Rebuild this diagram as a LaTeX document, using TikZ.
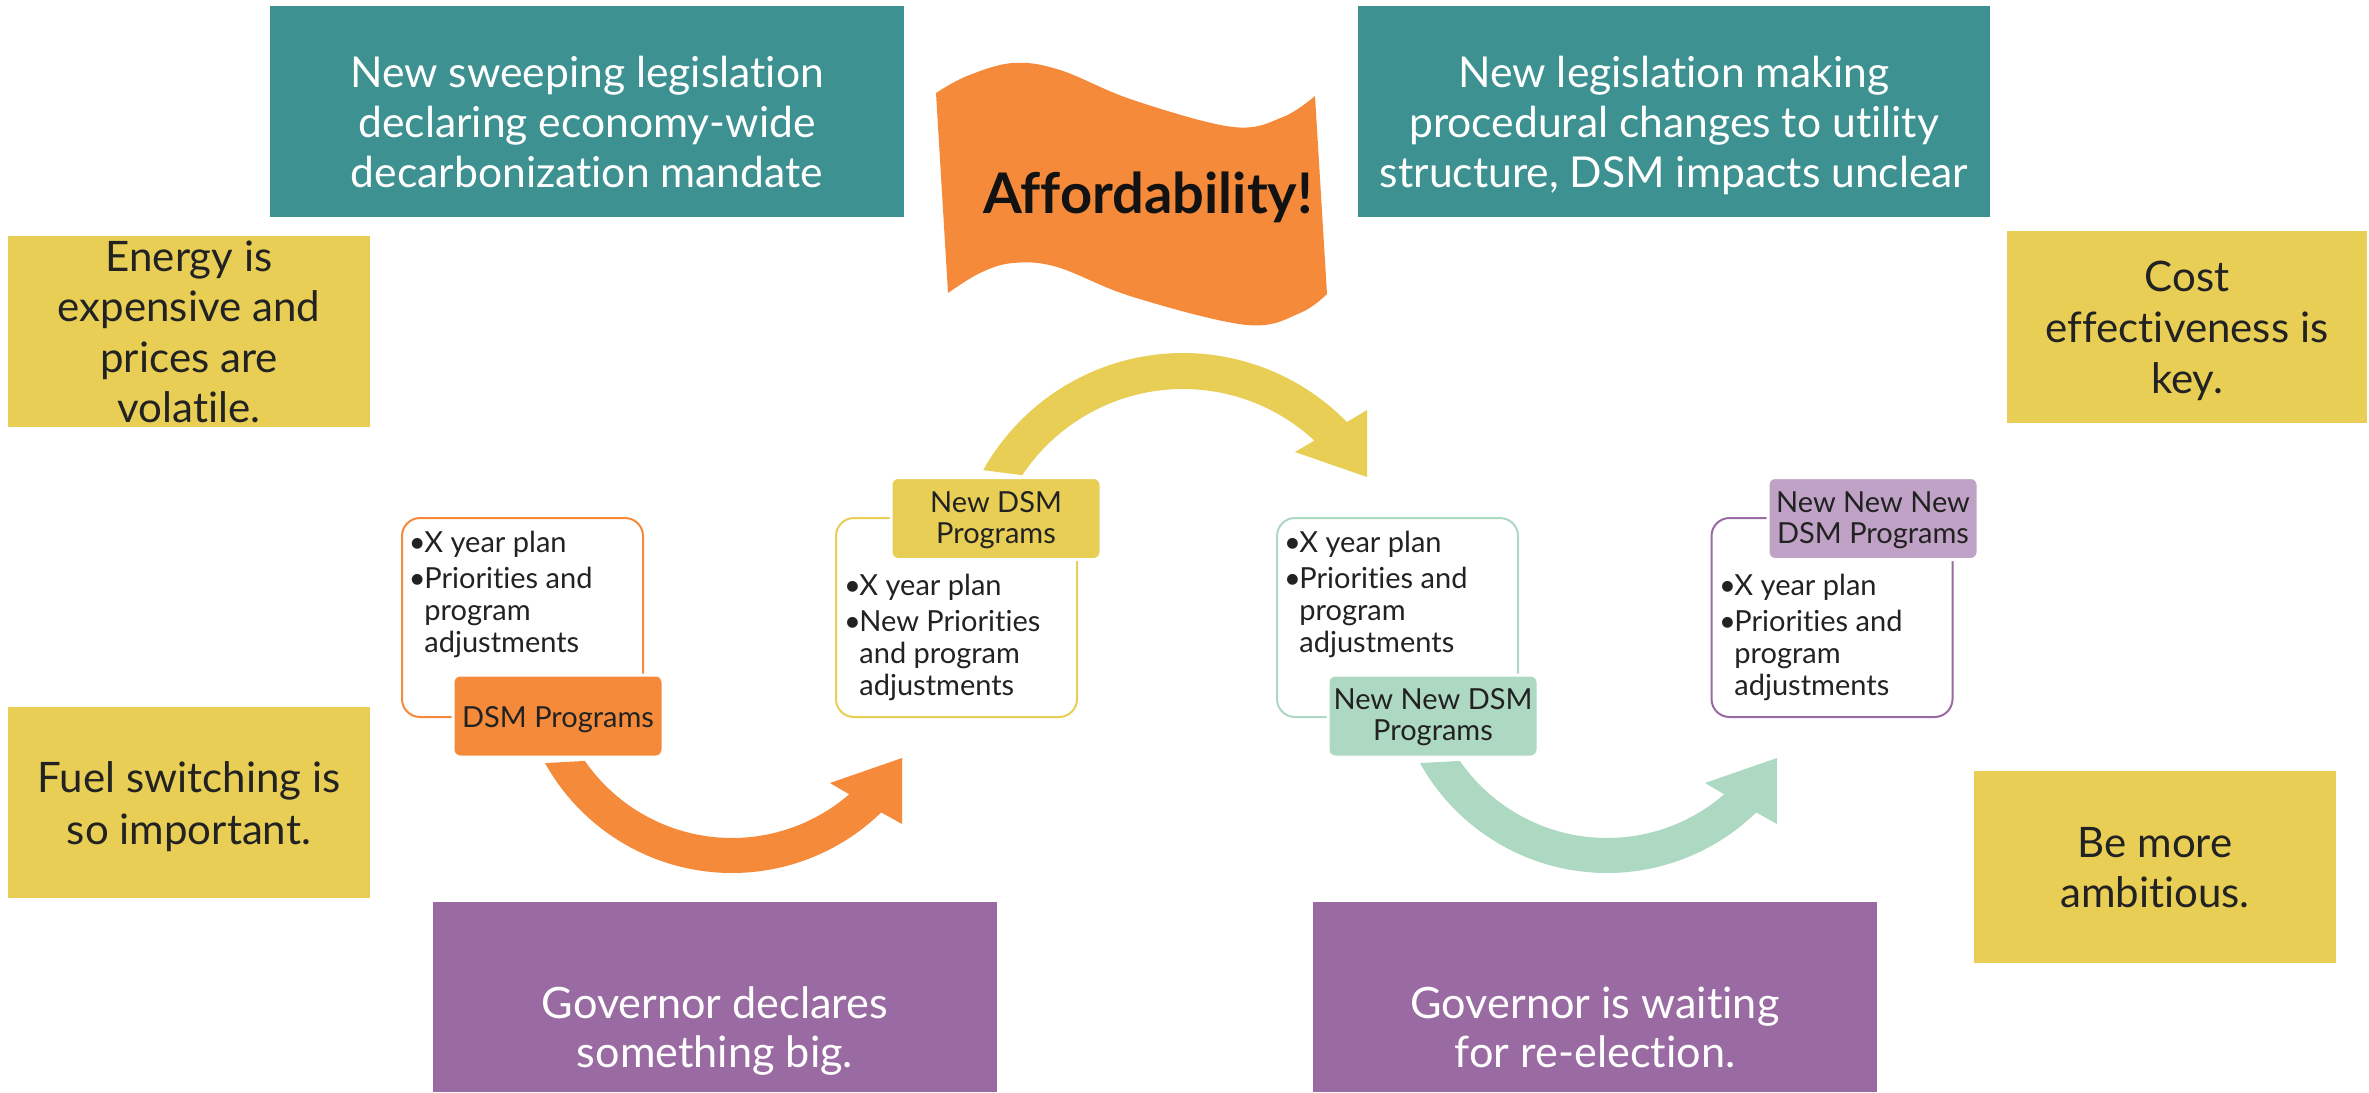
\documentclass[tikz,border=0pt]{standalone}
\usepackage{fontspec}
\setmainfont{Lato}[Ligatures={NoCommon}]
\usetikzlibrary{calc}
\definecolor{tealc}{HTML}{3D9190}
\definecolor{ylw}{HTML}{E8CE55}
\definecolor{org}{HTML}{F58B3A}
\definecolor{pur}{HTML}{9A6BA2}
\definecolor{purl}{HTML}{C0A2C7}
\definecolor{grn}{HTML}{ADD8C2}
\definecolor{ink}{HTML}{222222}
\newcommand\clines[2]{\vtop{\baselineskip=#1\lineskiplimit=-1000pt\lineskip=0pt\halign{\hfil##\hfil\cr#2\crcr}}}
\newcommand\llines[2]{\vtop{\baselineskip=#1\lineskiplimit=-1000pt\lineskip=0pt\halign{##\hfil&##\hfil\cr#2\crcr}}}
\newcommand\blt{\hbox to 7pt{\hss\textbullet\hss}}
\tikzset{
  fbox/.style={rectangle, inner sep=0pt, outer sep=0pt},
  tealbox/.style={fbox, fill=tealc},
  ylwbox/.style={fbox, fill=ylw},
  purbox/.style={fbox, fill=pur},
  obox/.style={fbox, rounded corners=9pt, fill=white, line width=1pt, minimum width=120.5pt, minimum height=99.5pt},
  lbox/.style={fbox, rounded corners=3.5pt, draw=white, line width=1.5pt, minimum width=105pt, minimum height=41pt},
  bigw/.style={inner sep=0pt, anchor=base, text=white, font=\fontsize{21.3pt}{25pt}\selectfont},
  bigk/.style={inner sep=0pt, anchor=base, text=ink, font=\fontsize{21pt}{25pt}\selectfont},
  small/.style={inner sep=0pt, text=ink, font=\fontsize{14.5pt}{16pt}\selectfont},
}
\begin{document}
\begin{tikzpicture}[x=0.5pt, y=-0.5pt]
\useasboundingbox (0,0) rectangle (2369,1092);
\fill[white] (0,0) rectangle (2369,1092);

% top teal boxes
\node[tealbox, minimum width=317pt, minimum height=105.5pt] (tl) at (587,111.5) {};
\node[bigw] (tltxt) at (587,87) {\clines{25pt}{New sweeping legislation\cr declaring economy-wide\cr decarbonization mandate}};
\node[tealbox, minimum width=316pt, minimum height=105.5pt] (tr) at (1674,111.5) {};
\node[bigw] (trtxt) at (1674,87) {\clines{25pt}{New legislation making\cr procedural changes to utility\cr structure, DSM impacts unclear}};

% flag
\fill[org] plot[smooth, tension=0.6] coordinates {(936,93) (967,76) (1013,63) (1060,70) (1133,100) (1233,127) (1283,117) (1315,96)}
  -- plot[smooth, tension=0.6] coordinates {(1327,294) (1300,313) (1247,325) (1133,297) (1057,267) (1013,263) (980,273) (948,293)} -- cycle;
\node[inner sep=0pt, anchor=base, text=black!93, font=\fontsize{28pt}{32pt}\selectfont\bfseries] (aff) at (1148,213) {Affordability!};

% yellow side boxes
\node[ylwbox, minimum width=181pt, minimum height=95.5pt] (y1) at (189,331.5) {};
\node[bigk] (y1txt) at (189,271) {\clines{25.25pt}{Energy is\cr expensive and\cr prices are\cr volatile.}};
\node[ylwbox, minimum width=181pt, minimum height=95.5pt] (y2) at (189,802.5) {};
\node[bigk] (y2txt) at (189,792) {\clines{26pt}{Fuel switching is\cr so important.}};
\node[ylwbox, minimum width=180pt, minimum height=96pt] (y3) at (2187,327) {};
\node[bigk] (y3txt) at (2187,291) {\clines{25.5pt}{Cost\cr effectiveness is\cr key.}};
\node[ylwbox, minimum width=181pt, minimum height=96pt] (y4) at (2155,867) {};
\node[bigk] (y4txt) at (2155,857) {\clines{25pt}{Be more\cr ambitious.}};

% purple bottom boxes
\node[purbox, minimum width=282pt, minimum height=95pt] (p1) at (715,997) {};
\node[bigw, font=\fontsize{21.6pt}{24pt}\selectfont] (p1txt) at (715,1018) {\clines{24.5pt}{Governor declares\cr something big.}};
\node[purbox, minimum width=282pt, minimum height=95pt] (p2) at (1595,997) {};
\node[bigw, font=\fontsize{21.6pt}{24pt}\selectfont] (p2txt) at (1595,1018) {\clines{24.5pt}{Governor is waiting\cr for re-election.}};

% circular arrows
\coordinate (oc) at (732,659);
\coordinate (yc) at (1183,582);
\coordinate (gc) at (1607,659);
\fill[org] ($(oc)+(150.9:214)$) arc[start angle=150.9, end angle=45.8, radius=214]
  -- (902,824) -- (902,758) -- (830,783)
  -- ($(oc)+(49.1:179)$) arc[start angle=49.1, end angle=145.3, radius=179] -- cycle;
\fill[ylw] ($(yc)+(-150.75:229)$) arc[start angle=-150.75, end angle=-44.3, radius=229]
  -- (1367,410) -- (1367,477) -- (1295,452)
  -- ($(yc)+(-47.1:193)$) arc[start angle=-47.1, end angle=-146.4, radius=193] -- cycle;
\fill[grn] ($(gc)+(150.9:214)$) arc[start angle=150.9, end angle=45.8, radius=214]
  -- (1777,824) -- (1777,758) -- (1705,783)
  -- ($(gc)+(49.1:179)$) arc[start angle=49.1, end angle=145.3, radius=179] -- cycle;

% outlined bullet boxes
\node[obox, draw=org] (ob) at (522.5,617.5) {};
\node[obox, draw=ylw] (yb) at (956.5,617.5) {};
\node[obox, draw=grn] (gb) at (1397.5,617.5) {};
\node[obox, draw=pur] (pb) at (1832,617.5) {};

\node[small, anchor=base west] (obtxt) at (410,552) {\llines{16pt}{\blt&X year plan\cr\noalign{\vskip2pt}\blt&Priorities and\cr&program\cr&adjustments}};
\node[small, anchor=base west] (ybtxt) at (845,595) {\llines{16pt}{\blt&X year plan\cr\noalign{\vskip2pt}\blt&New Priorities\cr&and program\cr&adjustments}};
\node[small, anchor=base west] (gbtxt) at (1285,552) {\llines{16pt}{\blt&X year plan\cr\noalign{\vskip2pt}\blt&Priorities and\cr&program\cr&adjustments}};
\node[small, anchor=base west] (pbtxt) at (1720,595) {\llines{16pt}{\blt&X year plan\cr\noalign{\vskip2pt}\blt&Priorities and\cr&program\cr&adjustments}};

% label boxes
\node[lbox, fill=org] (ol) at (558,716) {};
\node[small, anchor=base] (oltxt) at (558,727) {DSM Programs};
\node[lbox, fill=ylw] (yl) at (996,518.5) {};
\node[small, anchor=base] (yltxt) at (996,512) {\clines{15.5pt}{New DSM\cr Programs}};
\node[lbox, fill=grn] (gl) at (1433,716) {};
\node[small, anchor=base] (gltxt) at (1433,709) {\clines{15.5pt}{New New DSM\cr Programs}};
\node[lbox, fill=purl] (pl) at (1873,518.5) {};
\node[small, anchor=base] (pltxt) at (1873,512) {\clines{15.5pt}{New New New\cr DSM Programs}};
\end{tikzpicture}
\end{document}
